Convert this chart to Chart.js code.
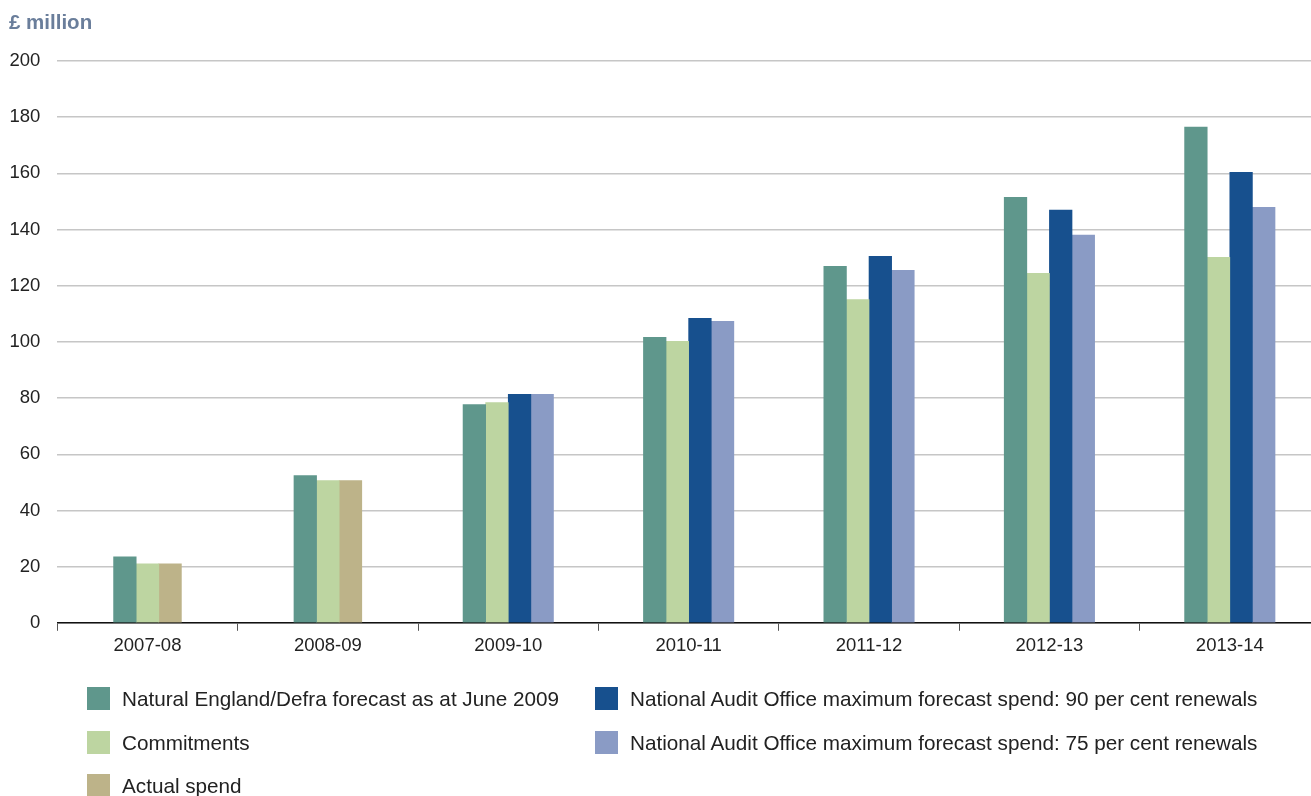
<!DOCTYPE html>
<html>
<head>
<meta charset="utf-8">
<script src="https://cdn.jsdelivr.net/npm/chart.js@4.4.1/dist/chart.umd.min.js"></script>
<style>
  html, body { margin: 0; padding: 0; background: #ffffff; overflow: hidden; width: 1311px; height: 796px; }
  #wrap { position: absolute; left: 0; top: 0; width: 1322px; height: 666px; }
  #legend { position: absolute; left: 0; top: 0; width: 1311px; height: 796px; pointer-events: none;
            font-family: "Liberation Sans", Arial, sans-serif; font-size: 20.7px; color: #222; }
  .item { position: absolute; height: 23px; display: flex; align-items: center; white-space: nowrap; }
  .sw { width: 23px; height: 23px; flex: 0 0 23px; }
  .lab { margin-left: 12px; }
</style>
</head>
<body>
<div id="wrap"><canvas id="c" width="1322" height="666"></canvas></div>
<div id="legend"></div>
<script>
const categories = ['2007-08', '2008-09', '2009-10', '2010-11', '2011-12', '2012-13', '2013-14'];
const neForecast  = [23.5, 52.4, 77.7, 101.6, 126.9, 151.5, 176.5];
const commitments = [21.0, 50.6, 78.4, 100.2, 115.1, 124.4, 130.1];
const actualSpend = [21.0, 50.6, null, null, null, null, null];
const nao90       = [null, null, 81.3, 108.4, 130.5, 146.9, 160.4];
const nao75       = [null, null, 81.3, 107.3, 125.5, 138.0, 147.9];
const seriesLabels = [
  'Natural England/Defra forecast as at June 2009',
  'Commitments',
  'Actual spend',
  'National Audit Office maximum forecast spend: 90 per cent renewals',
  'National Audit Office maximum forecast spend: 75 per cent renewals'
];
const seriesColors = ['#5f978c', '#bdd5a1', '#bdb389', '#17508e', '#8a9bc5'];
const seriesValues = [neForecast, commitments, actualSpend, nao90, nao75];
const yTicks = [0, 20, 40, 60, 80, 100, 120, 140, 160, 180, 200];

const FONT = '"Liberation Sans", Arial, sans-serif';

const chart = new Chart(document.getElementById('c'), {
  type: 'bar',
  data: {
    labels: categories,
    datasets: seriesValues.map((vals, i) => ({
      label: seriesLabels[i],
      data: vals,
      backgroundColor: seriesColors[i],
      borderWidth: 0,
      barThickness: 22.6,
      skipNull: true
    }))
  },
  options: {
    responsive: false,
    animation: false,
    devicePixelRatio: 1,
    layout: { padding: { left: 9, right: 2, top: 0, bottom: 5 } },
    plugins: {
      legend: { display: false },
      tooltip: { enabled: false },
      title: {
        display: true,
        text: '£ million',
        align: 'start',
        color: '#6a7e9b',
        font: { family: FONT, size: 20.5, weight: 'bold', lineHeight: 1.2 },
        padding: { top: 11, bottom: 25.4 }
      }
    },
    scales: {
      x: {
        grid: { display: true, drawOnChartArea: false, drawTicks: true, tickLength: 8, color: '#555', lineWidth: 1, offset: true },
        border: { display: true, color: '#111', width: 1.5 },
        ticks: { color: '#222', font: { family: FONT, size: 18.5, lineHeight: 1.2 }, padding: 4, maxRotation: 0, autoSkip: false }
      },
      y: {
        min: 0,
        max: 200,
        afterBuildTicks: (axis) => { axis.ticks = yTicks.map(v => ({ value: v })); },
        afterFit: (axis) => { axis.width = 48.3; },
        grid: { color: '#c6c6c6', lineWidth: 1.5, drawTicks: false },
        border: { display: false },
        ticks: { color: '#222', font: { family: FONT, size: 18.5, lineHeight: 1.2 }, padding: 17 }
      }
    }
  }
});

// HTML legend in two columns, built from the series arrays
const legendEl = document.getElementById('legend');
const legendSlots = [
  { left: 87, top: 687 },
  { left: 87, top: 731 },
  { left: 87, top: 774 },
  { left: 595, top: 687 },
  { left: 595, top: 731 }
];
seriesLabels.forEach((lab, i) => {
  const it = document.createElement('div');
  it.className = 'item';
  it.style.left = legendSlots[i].left + 'px';
  it.style.top = legendSlots[i].top + 'px';
  const sw = document.createElement('span');
  sw.className = 'sw';
  sw.style.background = seriesColors[i];
  const tx = document.createElement('span');
  tx.className = 'lab';
  tx.textContent = lab;
  it.appendChild(sw);
  it.appendChild(tx);
  legendEl.appendChild(it);
});
</script>
</body>
</html>
